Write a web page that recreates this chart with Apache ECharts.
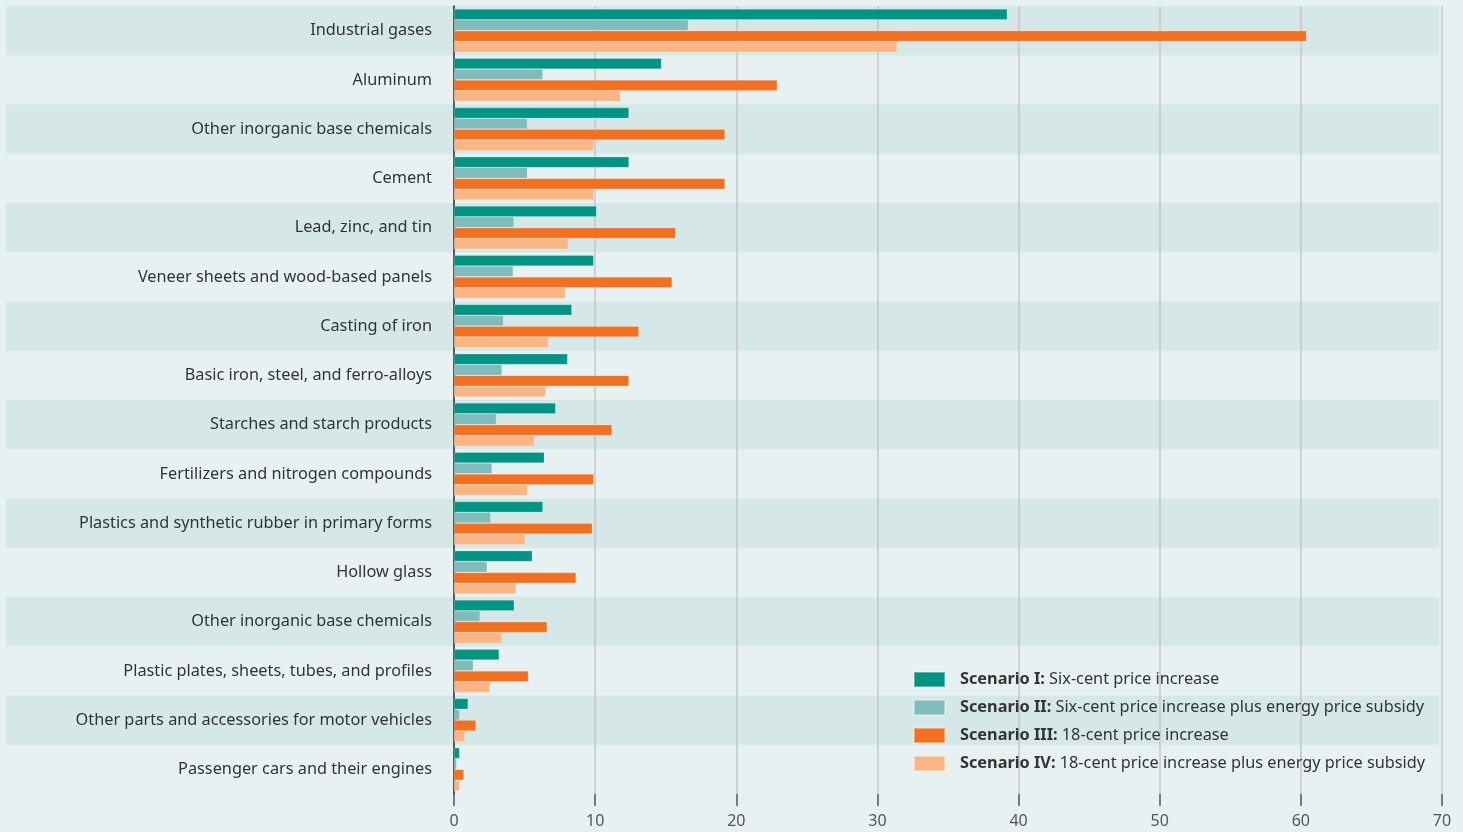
<!DOCTYPE html>
<html>
<head>
<meta charset="utf-8">
<script src="https://cdn.jsdelivr.net/npm/echarts@6/dist/echarts.min.js"></script>
<style>
html,body{margin:0;padding:0;background:#e8f1f2;}
#c{width:1463px;height:832px;}
</style>
</head>
<body>
<div id="c"></div>
<script>
const categories = [
  "Industrial gases",
  "Aluminum",
  "Other inorganic base chemicals",
  "Cement",
  "Lead, zinc, and tin",
  "Veneer sheets and wood-based panels",
  "Casting of iron",
  "Basic iron, steel, and ferro-alloys",
  "Starches and starch products",
  "Fertilizers and nitrogen compounds",
  "Plastics and synthetic rubber in primary forms",
  "Hollow glass",
  "Other inorganic base chemicals ",
  "Plastic plates, sheets, tubes, and profiles",
  "Other parts and accessories for motor vehicles",
  "Passenger cars and their engines"
];
const seriesNames = [
  "Scenario I: Six-cent price increase",
  "Scenario II: Six-cent price increase plus energy price subsidy",
  "Scenario III: 18-cent price increase",
  "Scenario IV: 18-cent price increase plus energy price subsidy"
];
const scenario1 = [39.2, 14.7, 12.4, 12.4, 10.1, 9.9, 8.35, 8.05, 7.2, 6.4, 6.3, 5.55, 4.27, 3.2, 1.0, 0.4];
const scenario2 = [16.6, 6.3, 5.2, 5.2, 4.25, 4.2, 3.5, 3.4, 3.0, 2.7, 2.6, 2.35, 1.85, 1.37, 0.4, 0.19];
const scenario3 = [60.4, 22.9, 19.2, 19.2, 15.7, 15.45, 13.1, 12.4, 11.2, 9.9, 9.8, 8.65, 6.6, 5.27, 1.56, 0.7];
const scenario4 = [31.4, 11.8, 9.9, 9.9, 8.1, 7.9, 6.7, 6.5, 5.7, 5.2, 5.05, 4.4, 3.4, 2.55, 0.78, 0.4];
const xTicks = [0, 10, 20, 30, 40, 50, 60, 70];

const colors = ["#009485", "#80bcbb", "#f47021", "#fab584"];
const values = [scenario1, scenario2, scenario3, scenario4];

const chart = echarts.init(document.getElementById('c'));
const font = "'Noto Sans', 'Open Sans', sans-serif";

const option = {
  backgroundColor: '#e8f1f2',
  animation: false,
  grid: [
    {left: 454, right: 21, top: 6, bottom: 38, containLabel: false},
    {left: 6, right: 24, top: 6, bottom: 38, containLabel: false}
  ],
  xAxis: [
    {
      type: 'value', gridIndex: 0, min: xTicks[0], max: xTicks[xTicks.length - 1], interval: 10,
      axisLine: {show: false},
      axisTick: {show: true, length: 12, lineStyle: {color: '#555', width: 1.5}},
      axisLabel: {color: '#555', fontSize: 16, fontFamily: font, margin: 19},
      splitLine: {show: true, lineStyle: {color: '#c3c6c8', width: 1.5}}
    },
    {
      type: 'value', gridIndex: 1, min: 0, max: 1, show: false
    }
  ],
  yAxis: [
    {
      type: 'category', gridIndex: 0, data: categories, inverse: true,
      axisLine: {show: true, lineStyle: {color: '#333', width: 1.5}},
      axisTick: {show: false},
      axisLabel: {color: '#333', fontSize: 16.3, fontFamily: font, margin: 22,
        formatter: v => v.trim()},
      splitLine: {show: false}
    },
    {
      type: 'category', gridIndex: 1, data: categories, inverse: true,
      axisLine: {show: false}, axisTick: {show: false}, axisLabel: {show: false},
      splitArea: {show: true, areaStyle: {color: ['#d5e7e7', 'rgba(0,0,0,0)']}}
    }
  ],
  legend: {
    orient: 'vertical',
    left: 913, top: 671,
    padding: 0,
    itemWidth: 31, itemHeight: 15, itemGap: 11,
    icon: 'rect',
    data: seriesNames,
    formatter: name => {
      const i = name.indexOf(':');
      return '{b|' + name.slice(0, i + 1) + '}{n| ' + name.slice(i + 1).trim() + '}';
    },
    textStyle: {
      padding: [0, 0, 0, 10],
      rich: {
        b: {fontWeight: 'bold', fontSize: 16.3, color: '#333', fontFamily: font, lineHeight: 15},
        n: {fontSize: 16.3, color: '#333', fontFamily: font, lineHeight: 15}
      }
    }
  },
  series: values.map((arr, i) => ({
    name: seriesNames[i],
    type: 'bar',
    xAxisIndex: 0, yAxisIndex: 0,
    data: arr,
    barCategoryGap: '12%',
    barGap: '0%',
    itemStyle: {color: colors[i], borderColor: 'rgba(255,255,255,0.35)', borderWidth: 0.6},
    emphasis: {disabled: true}
  }))
};
chart.setOption(option);
</script>
</body>
</html>
